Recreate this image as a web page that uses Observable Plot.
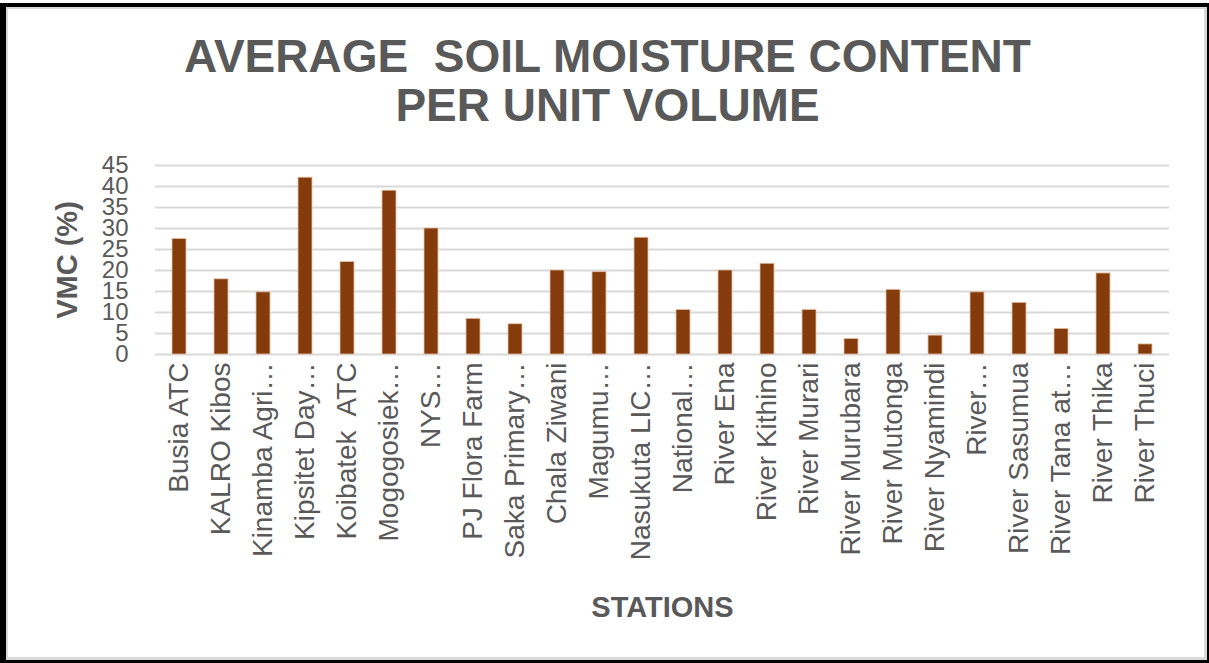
<!DOCTYPE html>
<html>
<head>
<meta charset="utf-8">
<script src="https://cdn.jsdelivr.net/npm/d3@7"></script>
<script src="https://cdn.jsdelivr.net/npm/@observablehq/plot@0.6"></script>
<style>
  html, body { margin: 0; padding: 0; background: #fff; }
  #wrap { position: relative; width: 1209px; height: 663px; overflow: hidden; background: #fff; }
  #frame { position: absolute; left: 0; top: 3px; width: 1209px; height: 660px; box-sizing: border-box;
           border-top: 4px solid #000; border-left: 6px solid #000; border-right: 2px solid #000; border-bottom: 3px solid #000; }
  #frame-inner { position: absolute; inset: 0; border: 2px solid #d9d9d9; border-right-width: 3px; border-bottom-width: 3px; }
  #title { position: absolute; left: 6px; right: 0; top: 32px; text-align: center; font-family: "Liberation Sans", Arial, sans-serif;
           font-weight: bold; font-size: 46px; line-height: 49px; color: #595959; white-space: pre; }
  #chart { position: absolute; left: 0; top: 0; }
  #chart svg text { white-space: pre; }
  #chart g[aria-label="y-axis label"] text, #chart g[aria-label="x-axis label"] text { font-size: 29px; font-weight: bold; fill: #595959; }
</style>
</head>
<body>
<div id="wrap">
  <div id="frame"><div id="frame-inner"></div></div>
  <div id="title">AVERAGE  SOIL MOISTURE CONTENT
PER UNIT VOLUME</div>
  <div id="chart"></div>
</div>
<script>
const stations = [
  "Busia ATC", "KALRO Kibos", "Kinamba Agri…", "Kipsitet Day…", "Koibatek  ATC", "Mogogosiek…",
  "NYS…", "PJ Flora Farm", "Saka Primary…", "Chala Ziwani", "Magumu…", "Nasukuta LIC…",
  "National…", "River Ena", "River Kithino", "River Murari", "River Murubara", "River Mutonga",
  "River Nyamindi", "River…", "River Sasumua", "River Tana at…", "River Thika", "River Thuci"
];
const vmc = [
  27.5, 17.9, 14.8, 42.1, 22.0, 39.0,
  30.0, 8.5, 7.2, 20.0, 19.6, 27.8,
  10.6, 20.0, 21.6, 10.6, 3.7, 15.4,
  4.5, 14.8, 12.3, 6.1, 19.3, 2.4
];
const yTicks = [0, 5, 10, 15, 20, 25, 30, 35, 40, 45];

const data = stations.map((s, i) => ({station: s, vmc: vmc[i]}));

const chart = Plot.plot({
  width: 1209,
  height: 663,
  marginTop: 165,
  marginBottom: 309,
  marginLeft: 155,
  marginRight: 40,
  style: {fontFamily: "'Liberation Sans', Arial, sans-serif", color: "#595959", background: "transparent"},
  x: {domain: stations, paddingInner: 0.655, paddingOuter: 0.33},
  y: {domain: [0, 45]},
  marks: [
    Plot.ruleY(yTicks, {stroke: "#d9d9d9", strokeWidth: 2}),
    Plot.barY(data, {x: "station", y: "vmc", fill: "#843c0c", stroke: "#e6bfa3", strokeWidth: 0.8}),
    Plot.axisY({ticks: yTicks, tickSize: 0, tickPadding: 27, fontSize: 24, fill: "#595959",
                label: "VMC (%)", labelAnchor: "center", labelArrow: "none", labelOffset: 99}),
    Plot.axisX({tickSize: 0, tickPadding: 8, tickRotate: -90, fontSize: 28, fill: "#595959",
                label: "STATIONS", labelAnchor: "center", labelArrow: "none", labelOffset: 262})
  ]
});
document.getElementById("chart").appendChild(chart);
</script>
</body>
</html>
